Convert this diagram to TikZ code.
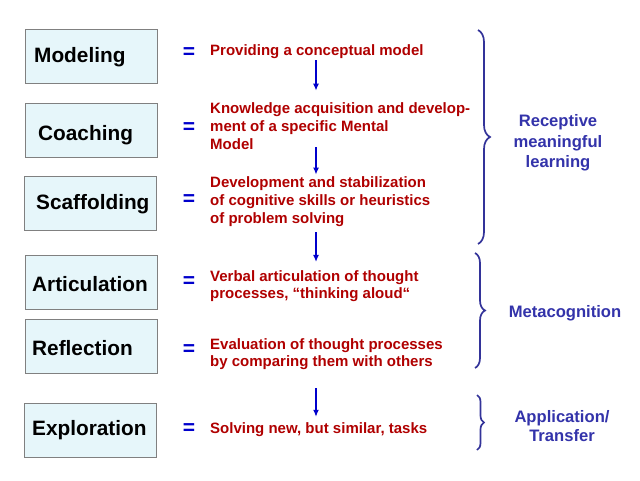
\documentclass[tikz,border=0pt]{standalone}
\usepackage{fontspec}
\setmainfont{Liberation Sans}
\usetikzlibrary{decorations.pathreplacing,arrows.meta}
\definecolor{redt}{RGB}{176,0,0}
\definecolor{eqb}{RGB}{0,0,204}
\definecolor{brc}{RGB}{51,51,153}
\definecolor{lblb}{RGB}{51,51,170}
\definecolor{boxfill}{RGB}{230,246,250}
\definecolor{boxline}{RGB}{128,128,128}
\begin{document}
\begin{tikzpicture}[x=1pt,y=-1pt,
 box/.style={draw=boxline, fill=boxfill, line width=0.8pt, minimum width=132pt, minimum height=54pt, inner sep=0},
 lbl/.style={anchor=base west, font=\fontsize{20.8}{24}\selectfont\bfseries, inner sep=0},
 eqs/.style={font=\fontsize{21}{24}\selectfont\bfseries, text=eqb, inner sep=0},
 desc/.style={anchor=west, align=left, text=redt, font=\fontsize{15}{17.7}\selectfont\bfseries, inner sep=0},
 arr/.style={draw=eqb, line width=1.3pt, -{Latex[length=7pt,width=6pt]}},
 brc/.style={draw=brc, line width=1.7pt, decorate, decoration={brace, amplitude=#1}},
 grp/.style={text=lblb, align=center, font=\fontsize{16.6}{20.5}\selectfont\bfseries, inner sep=0}
]
\useasboundingbox[fill=white] (0,0) rectangle (640,480);

% boxes
\node[box] (m1) at (91,56) {};
\node[box] (m2) at (91,130.5) {};
\node[box] (m3) at (90.5,203.5) {};
\node[box] (m4) at (91,282) {};
\node[box] (m5) at (91,346.5) {};
\node[box] (m6) at (90,430) {};
\node[lbl] (l1) at (34,62) {Modeling};
\node[lbl] (l2) at (38,140) {Coaching};
\node[lbl] (l3) at (36,209.5) {Scaffolding};
\node[lbl] (l4) at (32,291) {Articulation};
\node[lbl] (l5) at (32,355) {Reflection};
\node[lbl] (l6) at (32,435) {Exploration};

% equals
\node[eqs] (e1) at (189,53.5) {=};
\node[eqs] (e2) at (189,128) {=};
\node[eqs] (e3) at (189,200.5) {=};
\node[eqs] (e4) at (189,282.5) {=};
\node[eqs] (e5) at (189,350.5) {=};
\node[eqs] (e6) at (189,429.5) {=};

% descriptions
\node[desc] (t1) at (210,52) {Providing a conceptual model};
\node[desc] (t2) at (210,126) {Knowledge acquisition and develop-\\ment of a specific Mental\\Model};
\node[desc] (t3) at (210,201.5) {Development and stabilization\\of cognitive skills or heuristics\\of problem solving};
\node[desc] (t4) at (210,286) {Verbal articulation of thought\\processes, “thinking aloud“};
\node[desc] (t5) at (210,354) {Evaluation of thought processes\\by comparing them with others};
\node[desc] (t6) at (210,430) {Solving new, but similar, tasks};

% arrows
\coordinate (ax) at (316,0);
\draw[arr, shorten <=1pt, shorten >=12pt] (t1.south -| ax) -- (t2.north -| ax);
\draw[arr, shorten <=-2pt, shorten >=2pt] (t2.south -| ax) -- (t3.north -| ax);
\draw[arr, shorten <=6pt, shorten >=8pt] (t3.south -| ax) -- (t4.north -| ax);
\draw[arr, shorten <=18pt, shorten >=6pt] (t5.south -| ax) -- (t6.north -| ax);

% braces
\draw[brc=12pt] (478,30) -- (478,244);
\draw[brc=10pt] (475,253) -- (475,368);
\draw[brc=7pt] (477,395) -- (477,450);

% group labels
\node[grp] (g1) at (558,143) {Receptive\\meaningful\\learning};
\node[grp] (g2) at (565,313) {Metacognition};
\node[grp, font=\fontsize{16.6}{19}\selectfont\bfseries] (g3) at (562,426) {Application/\\Transfer};
\end{tikzpicture}
\end{document}
